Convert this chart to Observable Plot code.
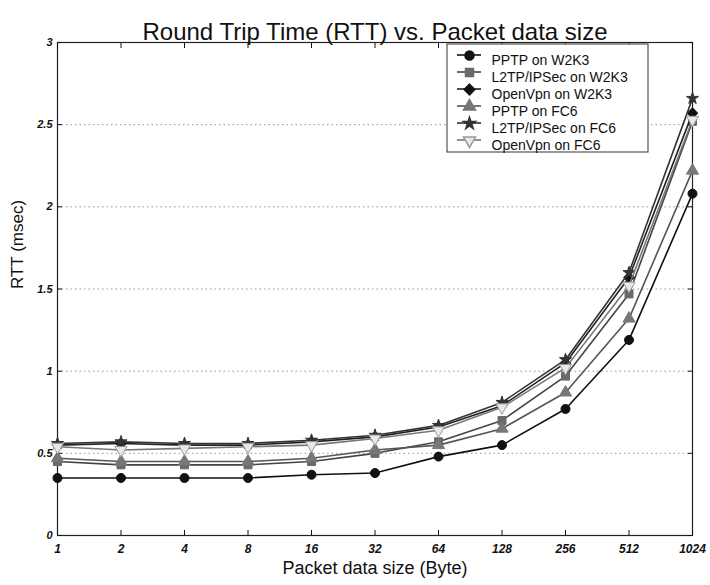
<!DOCTYPE html>
<html>
<head>
<meta charset="utf-8">
<script src="https://cdn.jsdelivr.net/npm/d3@7"></script>
<script src="https://cdn.jsdelivr.net/npm/@observablehq/plot@0.6"></script>
<style>
  body { margin: 0; background: #fff; }
  #chart svg { font-family: "Liberation Sans", Arial, sans-serif; }
</style>
</head>
<body>
<div id="chart"></div>
<script>
const sizes = [1, 2, 4, 8, 16, 32, 64, 128, 256, 512, 1024];
const seriesNames = ["PPTP on W2K3", "L2TP/IPSec on W2K3", "OpenVpn on W2K3", "PPTP on FC6", "L2TP/IPSec on FC6", "OpenVpn on FC6"];
const pptpW2K3   = [0.35, 0.35, 0.35, 0.35, 0.37, 0.38, 0.48, 0.55, 0.77, 1.19, 2.08];
const l2tpW2K3   = [0.45, 0.43, 0.43, 0.43, 0.45, 0.50, 0.57, 0.70, 0.97, 1.47, 2.52];
const openvpnW2K3= [0.55, 0.56, 0.55, 0.55, 0.57, 0.60, 0.66, 0.79, 1.05, 1.57, 2.57];
const pptpFC6    = [0.47, 0.45, 0.45, 0.45, 0.47, 0.52, 0.55, 0.65, 0.87, 1.32, 2.22];
const l2tpFC6    = [0.56, 0.57, 0.56, 0.56, 0.58, 0.61, 0.67, 0.81, 1.07, 1.60, 2.66];
const openvpnFC6 = [0.54, 0.52, 0.53, 0.54, 0.55, 0.59, 0.64, 0.78, 1.02, 1.52, 2.53];
const yTicks = [0, 0.5, 1, 1.5, 2, 2.5, 3];

const values = [pptpW2K3, l2tpW2K3, openvpnW2K3, pptpFC6, l2tpFC6, openvpnFC6];
const styles = [
  {symbol: "circle",   rotate: 0,   r: 4.5, stroke: "#111", fill: "#111", line: "#111"},
  {symbol: "square",   rotate: 0,   r: 4.5, stroke: "#6a6a6a", fill: "#6a6a6a", line: "#444"},
  {symbol: "diamond2", rotate: 0,   r: 4.8, stroke: "#111", fill: "#111", line: "#222"},
  {symbol: "triangle", rotate: 0,   r: 4.5, stroke: "#777", fill: "#777", line: "#555"},
  {symbol: "star",     rotate: 0,   r: 3.8, stroke: "#333", fill: "#333", line: "#333"},
  {symbol: "triangle", rotate: 180, r: 4.5, stroke: "#999", fill: "#e8e8e8", line: "#777"}
];

const data = [];
values.forEach((arr, i) => arr.forEach((v, j) => data.push({series: seriesNames[i], idx: i, size: sizes[j], rtt: v})));

const noLabel = () => "";
const marks = [
  Plot.gridY(yTicks.slice(1, -1), {stroke: "#888", strokeOpacity: 0.9, strokeDasharray: "1.5,3"}),
  Plot.frame({stroke: "#222", strokeWidth: 1.2}),
  Plot.axisX({anchor: "bottom", ticks: sizes, tickSize: -5, tickPadding: 14, tickFormat: d => String(d), fontSize: 12, fontStyle: "italic", fontWeight: 600, label: null}),
  Plot.axisX({anchor: "top", ticks: sizes, tickSize: -5, tickFormat: noLabel, label: null}),
  Plot.axisY({anchor: "left", ticks: yTicks, tickSize: -5, tickPadding: 10, tickFormat: d => String(d), fontSize: 11, fontStyle: "italic", fontWeight: 600, label: null}),
  Plot.axisY({anchor: "right", ticks: yTicks, tickSize: -5, tickFormat: noLabel, label: null}),
];

styles.forEach((s, i) => {
  const d = data.filter(r => r.idx === i);
  marks.push(Plot.line(d, {x: "size", y: "rtt", stroke: s.line, strokeWidth: 1.6}));
  marks.push(Plot.dot(d, {x: "size", y: "rtt", symbol: () => s.symbol, rotate: s.rotate, r: s.r, fill: s.fill, stroke: s.stroke, strokeWidth: 1}));
});

// Legend: box and line samples (decoration), positioned relative to the frame
const legLeft = 390, legTop = 2, legW = 201, legH = 108, rowH = 17, row0 = 13;
marks.push((index, scales, vals, dims) => {
  const g = d3.create("svg:g");
  const x0 = dims.marginLeft + legLeft, y0 = dims.marginTop + legTop;
  g.append("rect").attr("x", x0).attr("y", y0).attr("width", legW).attr("height", legH)
    .attr("fill", "white").attr("stroke", "#333").attr("stroke-width", 1);
  styles.forEach((s, i) => {
    const yy = dims.marginTop + row0 + i * rowH;
    g.append("line").attr("x1", x0 + 10).attr("x2", x0 + 34).attr("y1", yy).attr("y2", yy)
      .attr("stroke", s.line).attr("stroke-width", 1.6);
  });
  return g.node();
});
styles.forEach((s, i) => {
  const row = [seriesNames[i]];
  const dy = row0 + i * rowH;
  marks.push(Plot.dot(row, {frameAnchor: "top-left", dx: legLeft + 22, dy, symbol: () => s.symbol, rotate: s.rotate, r: s.r, fill: s.fill, stroke: s.stroke}));
  marks.push(Plot.text(row, {frameAnchor: "top-left", dx: legLeft + 44, dy, text: d => d, textAnchor: "start", fontSize: 14, fill: "#111"}));
});

// Title and axis labels
marks.push(Plot.text(["Round Trip Time (RTT) vs. Packet data size"], {frameAnchor: "top", dy: -20, text: d => d, fontSize: 24, fill: "#111"}));
marks.push(Plot.text(["Packet data size (Byte)"], {frameAnchor: "bottom", dy: 38, text: d => d, fontSize: 18, fill: "#111"}));
marks.push(Plot.text(["RTT (msec)"], {frameAnchor: "left", dx: -40, text: d => d, rotate: -90, fontSize: 17, fill: "#111"}));

const plot = Plot.plot({
  width: 710,
  height: 585,
  marginTop: 42,
  marginLeft: 57,
  marginRight: 18,
  marginBottom: 50,
  x: {type: "log", base: 2, domain: [1, 1024]},
  y: {domain: [0, 3]},
  style: {background: "#fff", color: "#111", overflow: "visible"},
  marks
});
document.getElementById("chart").appendChild(plot);
</script>
</body>
</html>
